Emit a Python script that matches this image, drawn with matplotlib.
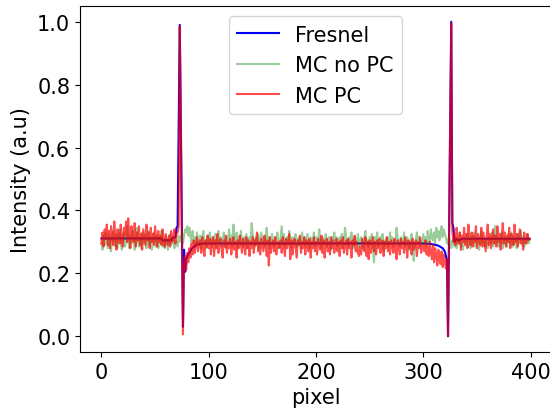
import numpy as np
import matplotlib
matplotlib.use("Agg")
import matplotlib.pyplot as plt

# Fresnel profile (key points)
fresnel_x = [0, 56, 57, 65, 66, 69, 70, 71, 73, 76, 77, 78, 79, 81, 84, 89, 96,
             300, 308, 314, 318, 320, 321, 322, 323, 326, 327, 328, 329, 331, 333, 336, 399]
fresnel_y = [0.311, 0.311, 0.305, 0.305, 0.312, 0.315, 0.345, 0.35, 0.99, 0.03, 0.275, 0.205, 0.245, 0.26, 0.278, 0.292, 0.295,
             0.295, 0.293, 0.288, 0.28, 0.27, 0.256, 0.24, 0.0, 1.0, 0.36, 0.345, 0.30, 0.31, 0.305, 0.31, 0.31]

# MC without phase contrast, one value per pixel
mc_no_pc = [
    .295, .275, .320, .290, .330, .300, .280, .325, .305, .270, .315, .335, .295, .285, .325, .280, .310, .340, .295, .275,
    .315, .330, .285, .300, .350, .305, .280, .320, .295, .335, .310, .275, .300, .345, .305, .285, .315, .280, .330, .295,
    .305, .325, .280, .300, .335, .290, .315, .275, .305, .330, .295, .285, .320, .280, .315, .295, .335, .285, .305, .280,
    .315, .295, .275, .305, .325, .290, .300, .315, .280, .305, .295, .285, .320, .300, .310, .330, .295, .320, .340, .330,
    .350, .320, .345, .315, .300, .335, .295, .315, .285, .330, .305, .290, .320, .280, .315, .335, .295, .305, .280, .320,
    .295, .330, .305, .285, .315, .295, .325, .280, .305, .335, .295, .315, .285, .305, .330, .295, .280, .315, .305, .340,
    .295, .320, .285, .355, .295, .305, .330, .280, .315, .295, .335, .305, .285, .315, .295, .325, .280, .305, .315, .295,
    .360, .325, .300, .285, .315, .295, .325, .280, .305, .330, .295, .315, .285, .305, .345, .295, .315, .280, .305, .325,
    .295, .285, .315, .305, .330, .295, .280, .315, .350, .295, .325, .285, .305, .315, .295, .335, .305, .280, .315, .295,
    .305, .325, .285, .300, .315, .305, .280, .330, .295, .315, .285, .305, .325, .295, .280, .315, .305, .295, .330, .285,
    .315, .295, .305, .340, .295, .280, .315, .305, .295, .325, .285, .305, .315, .295, .275, .315, .305, .330, .295, .315,
    .285, .305, .315, .295, .325, .280, .305, .345, .315, .295, .285, .315, .305, .330, .295, .280, .315, .305, .295, .325,
    .285, .305, .315, .295, .275, .315, .335, .295, .305, .285, .315, .295, .325, .280, .235, .315, .295, .330, .285, .305,
    .315, .295, .325, .270, .305, .295, .315, .285, .305, .330, .295, .315, .285, .305, .295, .345, .315, .295, .285, .315,
    .305, .295, .330, .285, .305, .315, .295, .275, .305, .325, .295, .240, .285, .305, .330, .295, .315, .285, .305, .295,
    .325, .295, .315, .285, .335, .305, .295, .340, .315, .305, .330, .295, .345, .315, .335, .305, .325, .350, .315, .340,
    .325, .315, .295, .305, .315, .295, .280, .305, .295, .285, .315, .280, .305, .295, .330, .285, .295, .275, .315, .305,
    .295, .325, .285, .305, .280, .315, .295, .330, .285, .305, .315, .295, .275, .305, .335, .295, .315, .285, .305, .295,
    .280, .315, .305, .295, .330, .285, .305, .350, .295, .315, .285, .305, .295, .330, .280, .305, .315, .295, .285, .325,
    .305, .295, .330, .285, .315, .295, .305, .280, .325, .295, .305, .335, .295, .315, .285, .305, .295, .325, .295, .305,
]

# MC with phase contrast
mc_pc = [
    .295, .330, .285, .340, .310, .355, .290, .335, .280, .350, .315, .290, .365, .310, .275, .340, .325, .295, .355, .305,
    .285, .345, .320, .365, .300, .375, .315, .280, .350, .320, .300, .360, .285, .330, .305, .350, .290, .325, .275, .340,
    .315, .290, .355, .305, .330, .280, .345, .300, .325, .290, .350, .310, .285, .335, .300, .320, .290, .340, .305, .285,
    .325, .300, .290, .320, .285, .335, .300, .310, .340, .295, .325, .330, .350,
    .985, .720, .300, .006,
    .225, .255, .210, .265, .235, .280, .250, .295, .260, .305, .265, .290, .315, .270, .300, .305, .265, .315, .280, .255,
    .305, .285, .320,
    .280, .310, .260, .300, .315, .255, .305, .280, .325, .265, .300, .310, .275, .250, .305, .285, .320, .265, .300, .280,
    .310, .260, .290, .315, .275, .300, .250, .305, .280, .320, .290, .265, .310, .295, .260, .315, .280, .305, .255, .300,
    .280, .315, .265, .305, .290, .330, .270, .300, .260, .310, .290, .270, .320, .295, .255, .305, .225, .315, .265, .290,
    .305, .270, .315, .260, .300, .280, .290, .305, .265, .315, .290, .255, .310, .280, .300, .325, .245, .305, .260, .290,
    .310, .280, .250, .305, .290, .320, .265, .300, .280, .315, .260, .305, .290, .270, .310, .250, .300, .280, .315, .270,
    .300, .260, .310, .290, .275, .320, .265, .305, .250, .290, .310, .270, .300, .260, .315, .280, .305, .265, .290, .310,
    .270, .300, .255, .305, .280, .315, .265, .290, .305, .260, .310, .280, .300, .250, .305, .290, .320, .270, .300, .265,
    .255, .285, .260, .310, .290, .270, .315, .255, .300, .245, .305, .265, .290, .315, .270, .300, .260, .305, .280, .310,
    .265, .290, .305, .255, .300, .280, .315, .270, .300, .260, .305, .290, .265, .310, .280, .245, .305, .290, .260, .310,
    .280, .300, .265, .315, .290, .250, .305, .280, .300, .260, .310, .275, .290, .305, .255, .300, .280, .315, .265, .290,
    .290, .270, .305, .260, .285, .255, .300, .265, .245, .290, .235, .280, .255, .225, .275, .245, .230, .270, .220, .260,
    .235, .215, .245,
    .000, .350, .700, .995,
    .335, .300, .325, .290, .345, .305, .295, .330, .275, .320, .300, .345, .290, .325, .280, .355, .310, .290, .330, .285,
    .320, .300, .350, .280, .325, .305, .290, .345, .285, .330, .300, .270, .320, .355, .290, .325, .280, .310, .340, .295,
    .320, .285, .350, .300, .325, .275, .310, .360, .295, .330, .285, .320, .300, .345, .280, .325, .305, .290, .355, .300,
    .325, .285, .320, .340, .295, .310, .275, .330, .300, .295, .325, .305, .310,
]

assert len(mc_no_pc) == 400, len(mc_no_pc)
assert len(mc_pc) == 400, len(mc_pc)

plt.rcParams["font.size"] = 15

fig = plt.figure(figsize=(5.5, 4.1), dpi=100)
ax = fig.add_axes([80 / 550, 57 / 410, 471 / 550, 346 / 410])

ax.plot(fresnel_x, fresnel_y, color="blue", label="Fresnel")
ax.plot(np.arange(len(mc_no_pc)), mc_no_pc, color="green", alpha=0.4, label="MC no PC")
ax.plot(np.arange(len(mc_pc)), mc_pc, color="red", alpha=0.7, label="MC PC")

ax.set_xlabel("pixel")
ax.set_ylabel("Intensity (a.u)")
ax.legend(loc="upper center")

fig.savefig("out.png", dpi=100)
